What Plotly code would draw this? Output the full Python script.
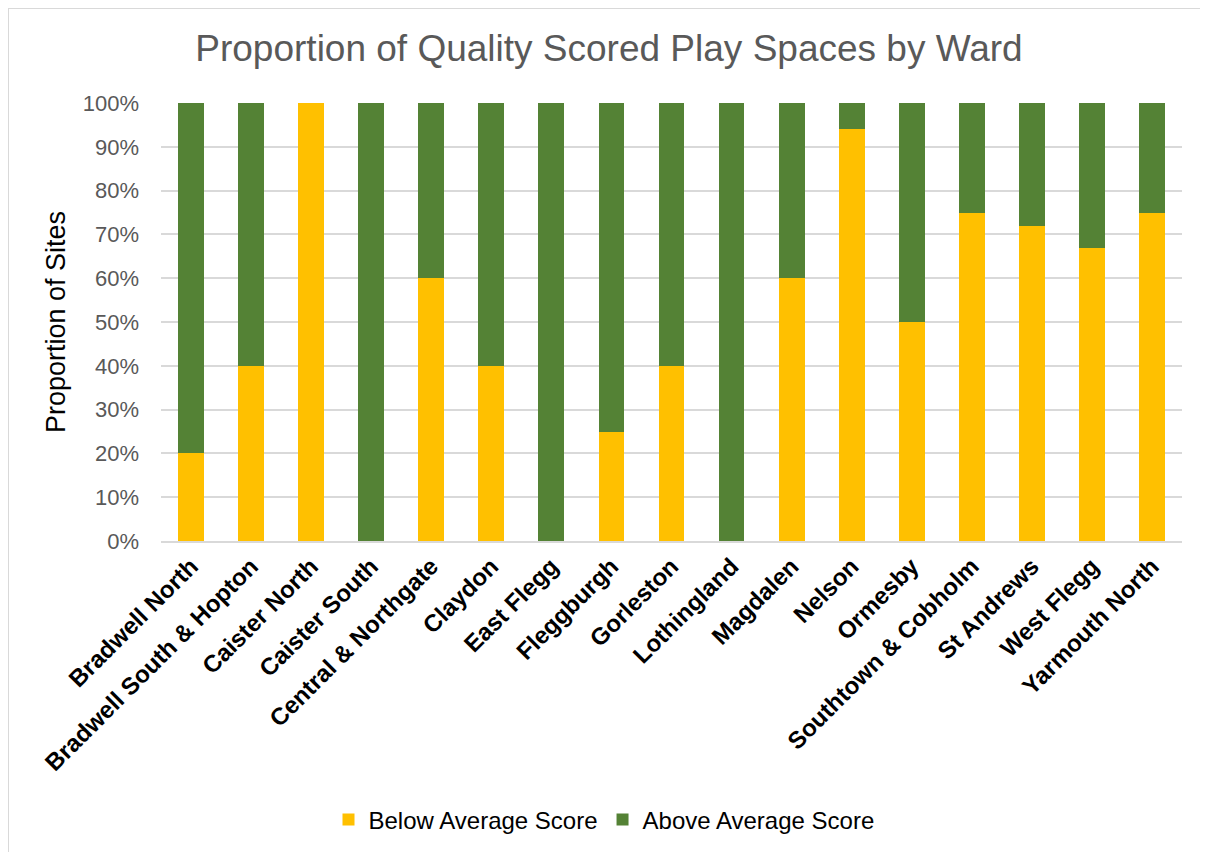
import plotly.graph_objects as go

wards = ["Bradwell North", "Bradwell South & Hopton", "Caister North", "Caister South",
         "Central & Northgate", "Claydon", "East Flegg", "Fleggburgh", "Gorleston",
         "Lothingland", "Magdalen", "Nelson", "Ormesby", "Southtown & Cobholm",
         "St Andrews", "West Flegg", "Yarmouth North"]
below = [20, 40, 100, 0, 60, 40, 0, 25, 40, 0, 60, 94, 50, 75, 72, 67, 75]
above = [80, 60, 0, 100, 40, 60, 100, 75, 60, 100, 40, 6, 50, 25, 28, 33, 25]
ytickvals = [0, 10, 20, 30, 40, 50, 60, 70, 80, 90, 100]
yticktext = [f"{v}%" for v in ytickvals]

# page has an 8px body margin; figure coordinates = page coordinates - 8
W, H = 1200, 844
L, R, T, B = 153, 26, 95, 311
pw, ph = W - L - R, H - T - B

FONT = "Liberation Sans, Arial, sans-serif"

fig = go.Figure()
fig.add_trace(go.Bar(x=wards, y=below, name="Below Average Score", marker_color="#FFC000",
                     marker_line_width=0))
fig.add_trace(go.Bar(x=wards, y=above, name="Above Average Score", marker_color="#548235",
                     marker_line_width=0))


def px_x(p):
    return (p - L) / pw


def px_y(p):
    return (H - B - p) / ph


fig.update_layout(
    width=W, height=H,
    barmode="stack", bargap=0.57,
    margin=dict(l=L, r=R, t=T, b=B, autoexpand=False),
    paper_bgcolor="white", plot_bgcolor="white",
    font=dict(family=FONT, color="#595959"),
    title=dict(text="Proportion of Quality Scored Play Spaces by Ward",
               x=601 / W, xanchor="center", y=1 - 40 / H, yanchor="middle",
               font=dict(size=37, color="#595959")),
    xaxis=dict(tickangle=-45, tickfont=dict(size=24, color="black", family=FONT, weight="bold"),
               showgrid=False, showline=True, linecolor="#d9d9d9", linewidth=1.5,
               ticks=""),
    yaxis=dict(range=[0, 100], tickvals=ytickvals, ticktext=yticktext,
               tickfont=dict(size=22, color="#595959"),
               showgrid=True, gridcolor="#d9d9d9", gridwidth=1.5,
               zeroline=False, ticklabelstandoff=21,
               title=dict(text="Proportion of Sites", font=dict(size=27, color="black"),
                          standoff=9)),
    legend=dict(orientation="h", x=px_x(596), xanchor="center", y=px_y(812),
                yanchor="middle", font=dict(size=24, color="black"),
                traceorder="normal"),
    shapes=[dict(type="rect", xref="paper", yref="paper",
                 x0=px_x(0), x1=px_x(1210), y0=px_y(850), y1=px_y(0),
                 line=dict(color="#d9d9d9", width=2), fillcolor="rgba(0,0,0,0)",
                 layer="below")],
)

fig.write_html("out.html")
